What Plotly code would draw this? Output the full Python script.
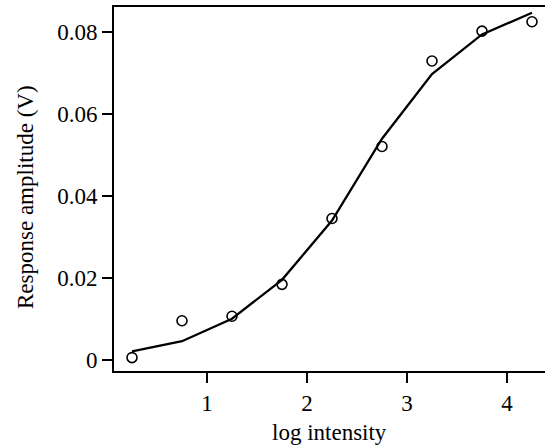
import plotly.graph_objects as go

log_intensity = [0.25, 0.75, 1.25, 1.75, 2.25, 2.75, 3.25, 3.75, 4.25]
measured = [0.0005, 0.0095, 0.0106, 0.0184, 0.0345, 0.0521, 0.0730, 0.0803, 0.0826]
fitted = [0.0020, 0.0045, 0.0100, 0.0195, 0.0340, 0.0540, 0.0698, 0.0795, 0.0848]

x_ticks = [1, 2, 3, 4]
y_ticks = [0, 0.02, 0.04, 0.06, 0.08]
y_tick_text = ["0", "0.02", "0.04", "0.06", "0.08"]

FONT = "Liberation Serif"
FS = 23

fig = go.Figure()
fig.add_trace(go.Scatter(x=log_intensity, y=fitted, mode="lines",
                         line=dict(color="black", width=2.3), showlegend=False))
fig.add_trace(go.Scatter(x=log_intensity, y=measured, mode="markers",
                         marker=dict(symbol="circle-open", size=10, color="black",
                                     line=dict(width=1.6, color="black")),
                         showlegend=False))

fig.update_layout(
    width=545, height=446,
    margin=dict(l=114, r=0, t=7, b=75),
    paper_bgcolor="white", plot_bgcolor="white",
    font=dict(family=FONT, size=FS, color="black"),
    xaxis=dict(range=[0.07, 4.38], tickvals=x_ticks, ticks="outside", ticklen=10,
               tickwidth=1.6, tickcolor="black", showline=True, linecolor="black",
               linewidth=2, mirror=True, showgrid=False, zeroline=False,
               tickfont=dict(family=FONT, size=FS)),
    yaxis=dict(range=[-0.00278, 0.0862], tickvals=y_ticks, ticktext=y_tick_text,
               ticks="outside", ticklen=10, tickwidth=1.6, tickcolor="black",
               showline=True, linecolor="black", linewidth=2, showgrid=False,
               zeroline=False, tickfont=dict(family=FONT, size=FS)),
    annotations=[
        dict(text="log intensity", xref="paper", yref="paper", x=0.5, y=0,
             yshift=-61, xanchor="center", yanchor="middle", showarrow=False,
             font=dict(family=FONT, size=FS)),
        dict(text="Response amplitude (V)", xref="paper", yref="paper", x=0, y=0.5,
             xshift=-89, yshift=-8, xanchor="center", yanchor="middle", textangle=-90,
             showarrow=False, font=dict(family=FONT, size=FS)),
    ],
)

fig.write_html("out.html", config={"displayModeBar": False},
               post_script="document.body.style.margin='0';")
